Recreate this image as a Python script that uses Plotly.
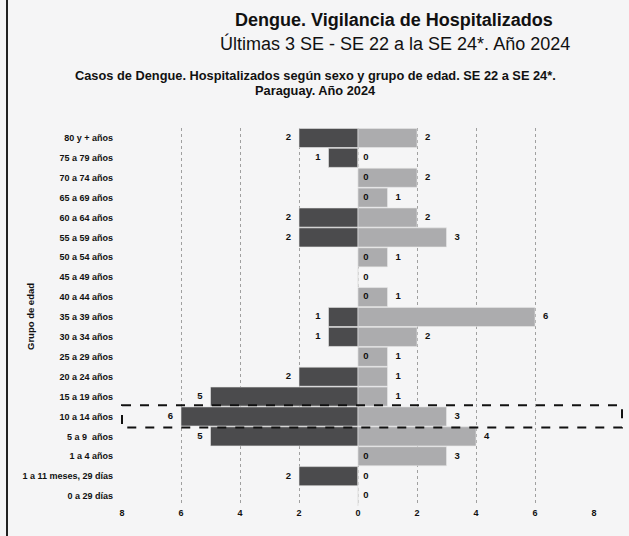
import plotly.graph_objects as go

# Data (top to bottom)
grupos = ["80 y + años", "75 a 79 años", "70 a 74 años", "65 a 69 años", "60 a 64 años",
          "55 a 59 años", "50 a 54 años", "45 a 49 años", "40 a 44 años", "35 a 39 años",
          "30 a 34 años", "25 a 29 años", "20 a 24 años", "15 a 19 años", "10 a 14 años",
          "5 a 9  años", "1 a 4 años", "1 a 11 meses, 29 días", "0 a 29 días"]
masculino = [2, 1, 0, 0, 2, 2, 0, 0, 0, 1, 1, 0, 2, 5, 6, 5, 0, 2, 0]
femenino = [2, 0, 2, 1, 2, 3, 1, 0, 1, 6, 2, 1, 1, 1, 3, 4, 3, 0, 0]
x_ticks = [-8, -6, -4, -2, 0, 2, 4, 6, 8]
x_ticklabels = ["8", "6", "4", "2", "0", "2", "4", "6", "8"]
resaltado = "10 a 14 años"

FONT = "Liberation Sans, Arial, sans-serif"
W, H = 629, 536
L, R, T, B = 122, 35, 128, 30
pw = W - L - R
ph = H - T - B

fig = go.Figure()
fig.add_trace(go.Bar(y=grupos, x=[-v for v in masculino], orientation="h",
                     marker=dict(color="#4b4b4d", line=dict(color="#e8e8e8", width=0.6)),
                     showlegend=False, hoverinfo="skip"))
fig.add_trace(go.Bar(y=grupos, x=femenino, orientation="h",
                     marker=dict(color="#acacae", line=dict(color="#e8e8e8", width=0.6)),
                     showlegend=False, hoverinfo="skip"))

# labels for male (left); a zero shares its spot with the female zero label
mx = [-v for v in masculino]
mpos = ["middle left" if v > 0 else "middle right" for v in masculino]
mtxt = []
for m, f in zip(masculino, femenino):
    if m > 0:
        mtxt.append("<b>%d</b>   " % m)
    elif f == 0:
        mtxt.append("")
    else:
        mtxt.append("  <b>%d</b>" % m)
fig.add_trace(go.Scatter(y=grupos, x=mx, mode="text", text=mtxt, textposition=mpos,
                         textfont=dict(family=FONT, size=9.5, color="#111"),
                         showlegend=False, hoverinfo="skip", cliponaxis=False))
ftxt = [("   <b>%d</b>" % v) if v > 0 else ("  <b>%d</b>" % v) for v in femenino]
fig.add_trace(go.Scatter(y=grupos, x=femenino, mode="text", text=ftxt, textposition="middle right",
                         textfont=dict(family=FONT, size=9.5, color="#111"),
                         showlegend=False, hoverinfo="skip", cliponaxis=False))

idx = grupos.index(resaltado)
shapes = [
    dict(type="rect", xref="paper", yref="y", x0=0, x1=(622 - L) / pw,
         y0=idx - 0.56, y1=idx + 0.56, line=dict(color="#111", width=2, dash="dash"),
         fillcolor="rgba(0,0,0,0)", layer="above"),
    dict(type="line", xref="paper", yref="paper", x0=(7 - L) / pw, x1=(7 - L) / pw,
         y0=-1, y1=2, line=dict(color="#222", width=2)),
]

annotations = [
    dict(text="<b>Dengue. Vigilancia de Hospitalizados</b>", xref="paper", yref="paper",
         x=(394 - L) / pw, y=1 + (T - 20) / ph, showarrow=False,
         font=dict(family=FONT, size=18, color="#111"), xanchor="center", yanchor="middle"),
    dict(text="Últimas 3 SE - SE 22 a la SE 24*. Año 2024", xref="paper", yref="paper",
         x=(395 - L) / pw, y=1 + (T - 43) / ph, showarrow=False,
         font=dict(family=FONT, size=18, color="#111"), xanchor="center", yanchor="middle"),
    dict(text="<b>Casos de Dengue. Hospitalizados según sexo y grupo de edad. SE 22 a SE 24*.</b>",
         xref="paper", yref="paper", x=(315 - L) / pw, y=1 + (T - 75) / ph, showarrow=False,
         font=dict(family=FONT, size=12.8, color="#111"), xanchor="center", yanchor="middle"),
    dict(text="<b>Paraguay. Año 2024</b>", xref="paper", yref="paper",
         x=(315 - L) / pw, y=1 + (T - 90) / ph, showarrow=False,
         font=dict(family=FONT, size=12.8, color="#111"), xanchor="center", yanchor="middle"),
    dict(text="<b>Grupo de edad</b>", xref="paper", yref="paper", x=(30 - L) / pw, y=0.5,
         textangle=-90, showarrow=False, font=dict(family=FONT, size=9.5, color="#111"),
         xanchor="center", yanchor="middle"),
]

fig.update_layout(
    width=W, height=H, margin=dict(l=L, r=R, t=T, b=B, autoexpand=False),
    paper_bgcolor="#f5f5f6", plot_bgcolor="#f5f5f6",
    barmode="relative", bargap=0.04,
    shapes=shapes, annotations=annotations,
    xaxis=dict(range=[-8, 8], tickvals=x_ticks, ticktext=["<b>%s</b>" % t for t in x_ticklabels],
               showgrid=True, gridcolor="#a0a0a0", griddash="dot", gridwidth=1,
               zeroline=False, showline=False, ticks="", automargin=False,
               tickfont=dict(family=FONT, size=9, color="#111")),
    yaxis=dict(categoryorder="array", categoryarray=grupos,
               range=[len(grupos) - 0.5, -0.5],
               tickvals=grupos, ticktext=["<b>%s</b>" % g for g in grupos],
               showgrid=False, zeroline=False, ticks="", showline=False, automargin=False,
               ticklabelstandoff=8,
               tickfont=dict(family=FONT, size=9, color="#111")),
)

fig.write_html("out.html", config={"displayModeBar": False},
               post_script="document.body.style.margin='0px';document.body.style.padding='0px';")
